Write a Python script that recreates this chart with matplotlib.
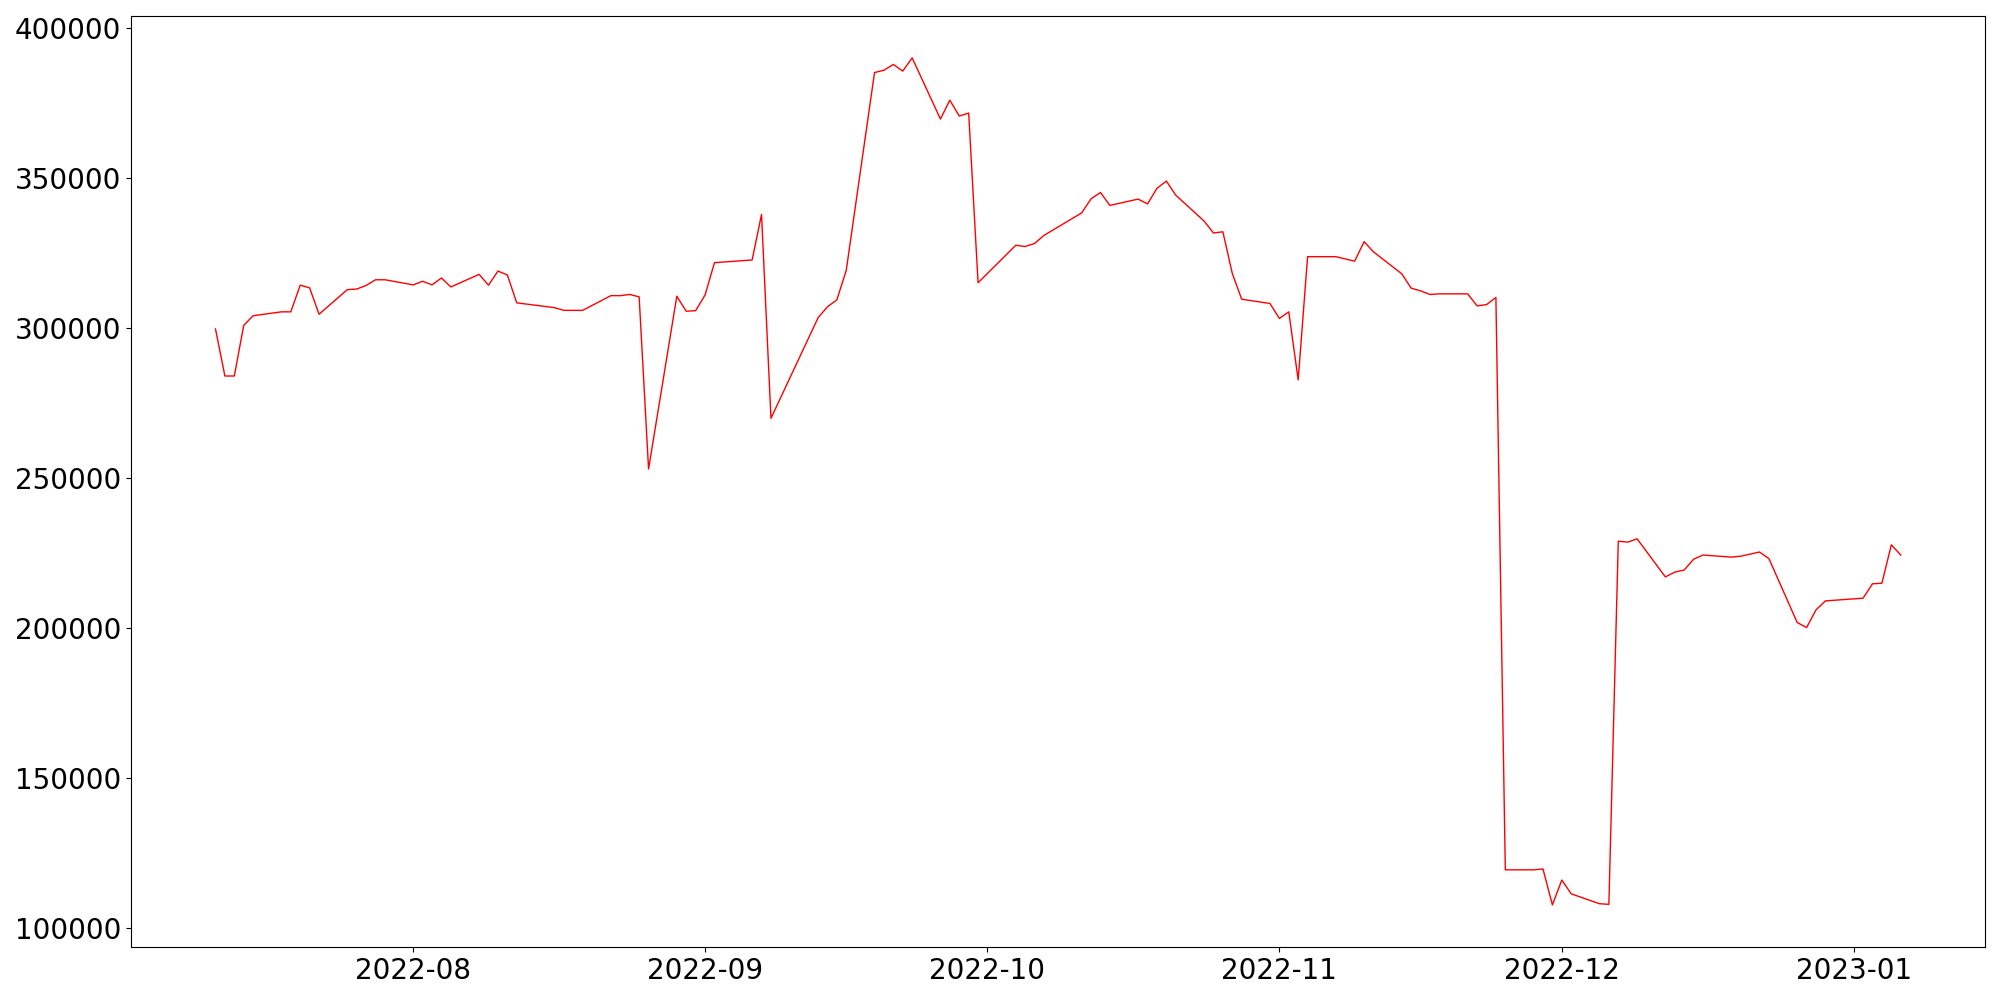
import pandas as pd
import matplotlib
matplotlib.use('Agg')
import matplotlib.pyplot as plt

# daily series
dates = [
    '2022-07-11', '2022-07-12', '2022-07-13', '2022-07-14', '2022-07-15',
    '2022-07-18', '2022-07-19', '2022-07-20', '2022-07-21', '2022-07-22',
    '2022-07-25', '2022-07-26', '2022-07-27', '2022-07-28', '2022-07-29',
    '2022-08-01', '2022-08-02', '2022-08-03', '2022-08-04', '2022-08-05',
    '2022-08-08', '2022-08-09', '2022-08-10', '2022-08-11', '2022-08-12',
    '2022-08-16', '2022-08-17', '2022-08-18', '2022-08-19',
    '2022-08-22', '2022-08-23', '2022-08-24', '2022-08-25', '2022-08-26',
    '2022-08-29', '2022-08-30', '2022-08-31', '2022-09-01', '2022-09-02',
    '2022-09-06', '2022-09-07', '2022-09-08',
    '2022-09-13', '2022-09-14', '2022-09-15', '2022-09-16',
    '2022-09-19', '2022-09-20', '2022-09-21', '2022-09-22', '2022-09-23',
    '2022-09-26', '2022-09-27', '2022-09-28', '2022-09-29', '2022-09-30',
    '2022-10-04', '2022-10-05', '2022-10-06', '2022-10-07',
    '2022-10-11', '2022-10-12', '2022-10-13', '2022-10-14',
    '2022-10-17', '2022-10-18', '2022-10-19', '2022-10-20', '2022-10-21',
    '2022-10-24', '2022-10-25', '2022-10-26', '2022-10-27', '2022-10-28',
    '2022-10-31', '2022-11-01', '2022-11-02', '2022-11-03', '2022-11-04',
    '2022-11-07', '2022-11-09', '2022-11-10', '2022-11-11',
    '2022-11-14', '2022-11-15', '2022-11-16', '2022-11-17', '2022-11-18',
    '2022-11-21', '2022-11-22', '2022-11-23', '2022-11-24', '2022-11-25',
    '2022-11-28', '2022-11-29', '2022-11-30', '2022-12-01', '2022-12-02',
    '2022-12-05', '2022-12-06', '2022-12-07', '2022-12-08', '2022-12-09',
    '2022-12-12', '2022-12-13', '2022-12-14', '2022-12-15', '2022-12-16',
    '2022-12-19', '2022-12-20', '2022-12-22', '2022-12-23',
    '2022-12-26', '2022-12-27', '2022-12-28', '2022-12-29',
    '2023-01-02', '2023-01-03', '2023-01-04', '2023-01-05', '2023-01-06',
]
values_k = [
    299.7, 284.0, 284.0, 300.9, 304.1,
    305.4, 305.4, 314.3, 313.4, 304.6,
    312.8, 313.0, 314.2, 316.1, 316.1,
    314.4, 315.6, 314.4, 316.7, 313.7,
    317.9, 314.3, 319.0, 317.7, 308.4,
    306.8, 305.9, 305.9, 305.9,
    310.8, 310.8, 311.2, 310.4, 253.0,
    310.6, 305.6, 305.8, 311.0, 321.8,
    322.7, 337.9, 269.9,
    303.4, 307.1, 309.4, 319.3,
    385.2, 386.0, 387.9, 385.7, 390.1,
    369.7, 376.0, 370.7, 371.7, 315.1,
    327.6, 327.2, 328.2, 330.9,
    338.4, 343.1, 345.2, 340.9,
    343.0, 341.4, 346.6, 349.0, 344.3,
    335.7, 331.7, 332.1, 318.2, 309.6,
    308.2, 303.2, 305.4, 282.7, 323.8,
    323.8, 322.3, 328.8, 325.4,
    318.1, 313.3, 312.4, 311.2, 311.4,
    311.4, 307.4, 307.8, 310.2, 119.3,
    119.3, 119.6, 107.6, 115.9, 111.3,
    108.0, 107.8, 228.9, 228.6, 229.7,
    217.0, 218.6, 219.3, 222.9, 224.3,
    223.6, 223.9, 225.3, 223.1,
    201.8, 200.1, 206.0, 209.0,
    209.9, 214.7, 214.9, 227.7, 224.3,
]

x = pd.to_datetime(dates)
y = [v * 1000 for v in values_k]

fig, ax = plt.subplots(figsize=(20, 10), dpi=100)
ax.plot(x, y, color='red', linewidth=1)
ax.tick_params(labelsize=20)
fig.tight_layout()
fig.savefig('out.png', dpi=100)
